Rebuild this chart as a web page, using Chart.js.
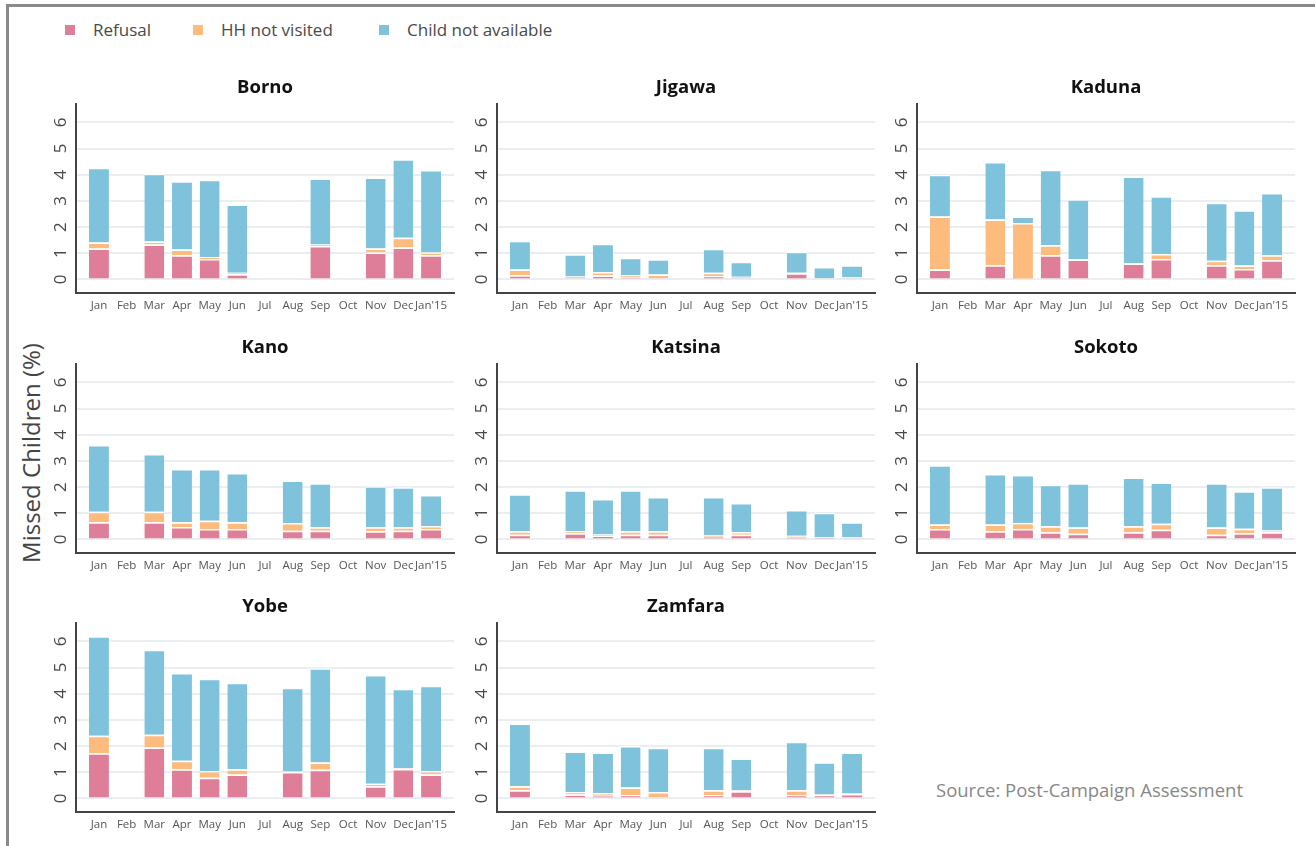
<!DOCTYPE html>
<html>
<head>
<meta charset="utf-8">
<script src="https://cdn.jsdelivr.net/npm/chart.js@4.4.1/dist/chart.umd.min.js"></script>
<style>
  html, body { margin: 0; padding: 0; background: #fff; }
  body { width: 1315px; height: 846px; position: relative; overflow: hidden; font-family: "Open Sans", sans-serif; }
  .frame-top { position: absolute; left: 6px; top: 4px; width: 1309px; height: 3px; background: #8a8a8a; }
  .frame-left { position: absolute; left: 6px; top: 4px; width: 3px; height: 842px; background: #8a8a8a; }
  .legend-item { position: absolute; top: 18px; font-size: 17px; color: #4a4a4a; line-height: 24px; }
  .legend-box { position: absolute; top: 25px; width: 10px; height: 10px; }
  .ytitle { position: absolute; left: 30px; top: 453px; transform: translate(-50%, -50%) rotate(-90deg); font-size: 24px; color: #444; white-space: nowrap; }
  .source { position: absolute; left: 936px; top: 777px; font-size: 18.5px; color: #888; white-space: nowrap; }
  canvas { position: absolute; }
</style>
</head>
<body>
<div class="frame-top"></div>
<div class="frame-left"></div>
<div class="legend-box" style="left:65px;background:#de7e98"></div>
<div class="legend-item" style="left:93px">Refusal</div>
<div class="legend-box" style="left:193px;background:#fdbc7e"></div>
<div class="legend-item" style="left:221px">HH not visited</div>
<div class="legend-box" style="left:379px;background:#7ec2dc"></div>
<div class="legend-item" style="left:407px">Child not available</div>
<div class="ytitle">Missed Children (%)</div>
<div class="source">Source: Post-Campaign Assessment</div>

<script>
// month labels along the x axis
const months = ['Jan', 'Feb', 'Mar', 'Apr', 'May', 'Jun', 'Jul', 'Aug', 'Sep', 'Oct', 'Nov', 'Dec', "Jan'15"];
const yTicks = [0, 1, 2, 3, 4, 5, 6];

// values, % missed children per reason
const bornoRefusal = [1.18, null, 1.33, 0.92, 0.78, 0.20, null, null, 1.28, null, 1.03, 1.22, 0.92];
const bornoHH      = [0.23, null, 0.12, 0.22, 0.07, 0.05, null, null, 0.05, null, 0.15, 0.37, 0.11];
const bornoChild   = [2.85, null, 2.59, 2.61, 2.96, 2.61, null, null, 2.52, null, 2.71, 3.00, 3.15];

const jigawaRefusal = [0.16, null, 0.05, 0.15, 0.08, 0.05, null, 0.12, 0.04, null, 0.23, 0.02, 0.04];
const jigawaHH      = [0.22, null, 0.06, 0.13, 0.08, 0.14, null, 0.13, 0.06, null, 0.02, 0.02, 0.05];
const jigawaChild   = [1.10, null, 0.85, 1.08, 0.67, 0.58, null, 0.92, 0.57, null, 0.81, 0.43, 0.45];

const kadunaRefusal = [0.38, null, 0.54, 0.02, 0.92, 0.76, null, 0.61, 0.78, null, 0.54, 0.40, 0.73];
const kadunaHH      = [2.02, null, 1.75, 2.13, 0.38, 0.02, null, 0.02, 0.19, null, 0.17, 0.13, 0.19];
const kadunaChild   = [1.60, null, 2.19, 0.25, 2.89, 2.28, null, 3.30, 2.21, null, 2.22, 2.11, 2.38];

const kanoRefusal = [0.65, null, 0.65, 0.47, 0.40, 0.40, null, 0.33, 0.33, null, 0.31, 0.33, 0.40];
const kanoHH      = [0.41, null, 0.41, 0.18, 0.31, 0.25, null, 0.30, 0.13, null, 0.15, 0.13, 0.10];
const kanoChild   = [2.55, null, 2.20, 2.04, 1.98, 1.89, null, 1.62, 1.68, null, 1.57, 1.53, 1.20];

const katsinaRefusal = [0.18, null, 0.23, 0.14, 0.18, 0.18, null, 0.10, 0.18, null, 0.06, 0.06, 0.05];
const katsinaHH      = [0.13, null, 0.08, 0.05, 0.13, 0.13, null, 0.05, 0.09, null, 0.08, 0.03, 0.03];
const katsinaChild   = [1.41, null, 1.57, 1.35, 1.57, 1.31, null, 1.47, 1.12, null, 0.98, 0.93, 0.57];

const sokotoRefusal = [0.40, null, 0.31, 0.40, 0.27, 0.22, null, 0.27, 0.37, null, 0.18, 0.23, 0.27];
const sokotoHH      = [0.17, null, 0.26, 0.23, 0.23, 0.23, null, 0.23, 0.23, null, 0.27, 0.18, 0.07];
const sokotoChild   = [2.26, null, 1.93, 1.83, 1.59, 1.69, null, 1.86, 1.57, null, 1.69, 1.43, 1.65];

const yobeRefusal = [1.72, null, 1.94, 1.11, 0.79, 0.91, null, 1.01, 1.09, null, 0.46, 1.12, 0.91];
const yobeHH      = [0.67, null, 0.49, 0.33, 0.26, 0.20, null, 0.04, 0.28, null, 0.10, 0.03, 0.14];
const yobeChild   = [3.80, null, 3.25, 3.35, 3.52, 3.31, null, 3.18, 3.60, null, 4.15, 3.04, 3.25];

const zamfaraRefusal = [0.31, null, 0.15, 0.10, 0.13, 0.05, null, 0.13, 0.27, null, 0.13, 0.13, 0.17];
const zamfaraHH      = [0.15, null, 0.09, 0.10, 0.29, 0.19, null, 0.18, 0.04, null, 0.18, 0.02, 0.03];
const zamfaraChild   = [2.40, null, 1.55, 1.55, 1.58, 1.69, null, 1.62, 1.21, null, 1.85, 1.23, 1.55];

const seriesNames = ['Refusal', 'HH not visited', 'Child not available'];
const seriesColors = ['#de7e98', '#fdbc7e', '#7ec2dc'];

const panels = [
  { name: 'Borno',   left: 76,  top: 104,   data: [bornoRefusal, bornoHH, bornoChild] },
  { name: 'Jigawa',  left: 497, top: 104,   data: [jigawaRefusal, jigawaHH, jigawaChild] },
  { name: 'Kaduna',  left: 917, top: 104,   data: [kadunaRefusal, kadunaHH, kadunaChild] },
  { name: 'Kano',    left: 76,  top: 363.5, data: [kanoRefusal, kanoHH, kanoChild] },
  { name: 'Katsina', left: 497, top: 363.5, data: [katsinaRefusal, katsinaHH, katsinaChild] },
  { name: 'Sokoto',  left: 917, top: 363.5, data: [sokotoRefusal, sokotoHH, sokotoChild] },
  { name: 'Yobe',    left: 76,  top: 623,   data: [yobeRefusal, yobeHH, yobeChild] },
  { name: 'Zamfara', left: 497, top: 623,   data: [zamfaraRefusal, zamfaraHH, zamfaraChild] }
];

// panel box sizes (pixels)
const AXIS_W = 56, TITLE_H = 40, XLAB_H = 28, PLOT_W = 378, PLOT_H = 189, PAD_R = 6;

panels.forEach(p => {
  const canvas = document.createElement('canvas');
  canvas.width = AXIS_W + PLOT_W + PAD_R;
  canvas.height = TITLE_H + PLOT_H + XLAB_H;
  canvas.style.left = (p.left - AXIS_W) + 'px';
  canvas.style.top = (p.top - TITLE_H) + 'px';
  document.body.appendChild(canvas);

  const datasets = p.data.map((arr, k) => ({
    label: seriesNames[k],
    data: months.map((m, i) => ({ x: i, y: arr[i] })),
    backgroundColor: seriesColors[k],
    borderColor: '#ffffff',
    borderWidth: { top: 1.5, right: 0, bottom: 0, left: 0 },
    borderSkipped: false,
    categoryPercentage: 0.8,
    barPercentage: 0.9
  }));

  new Chart(canvas.getContext('2d'), {
    type: 'bar',
    data: { datasets: datasets },
    options: {
      responsive: false,
      animation: false,
      layout: { padding: { right: PAD_R } },
      plugins: {
        legend: { display: false },
        tooltip: { enabled: false },
        title: {
          display: true,
          text: p.name,
          fullSize: false,
          color: '#111',
          font: { family: 'Open Sans', size: 18.5, weight: 'bold', lineHeight: 1.2 },
          padding: { top: 13, bottom: 4.8 }
        }
      },
      scales: {
        x: {
          type: 'linear',
          stacked: true,
          offset: false,
          min: -0.83,
          max: 12.83,
          grid: { display: false, drawTicks: false },
          border: { display: true, color: '#444', width: 2 },
          ticks: {
            stepSize: 1,
            includeBounds: false,
            autoSkip: false,
            maxRotation: 0,
            padding: 6,
            color: '#555',
            font: { family: 'Open Sans', size: 11.5 },
            callback: v => months[v] !== undefined ? months[v] : ''
          },
          afterFit: s => { s.height = XLAB_H; }
        },
        y: {
          stacked: true,
          min: -0.52,
          max: 6.7,
          grid: { color: '#e8eef2', lineWidth: 2, drawTicks: false },
          border: { display: true, color: '#444', width: 2 },
          ticks: {
            stepSize: 1,
            includeBounds: false,
            minRotation: 90,
            maxRotation: 90,
            crossAlign: 'center',
            padding: 10,
            color: '#4a4a4a',
            font: { family: 'Open Sans', size: 17 },
            callback: v => yTicks.includes(v) ? String(v) : ''
          },
          afterFit: s => { s.width = AXIS_W; }
        }
      }
    }
  });
});
</script>
</body>
</html>
